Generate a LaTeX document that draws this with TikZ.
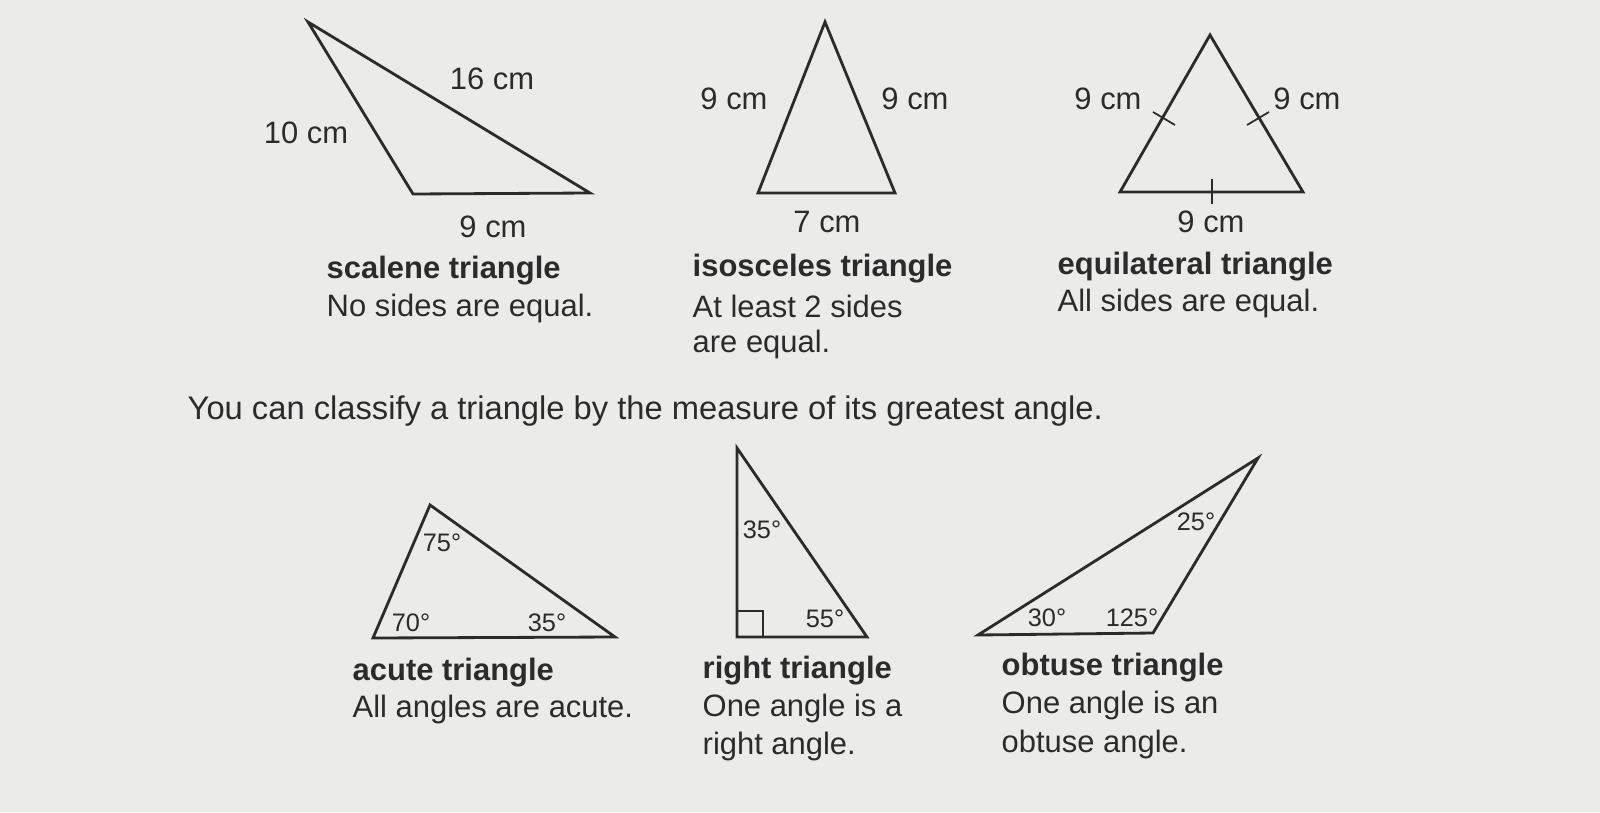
\documentclass[tikz,border=0pt]{standalone}
\usepackage{fontspec}
\setmainfont{Liberation Sans}
\definecolor{paper}{HTML}{EBEBEA}
\definecolor{ink}{HTML}{2B2B2B}
\tikzset{
  tri/.style={draw=ink, line width=0.8pt, line join=miter},
  tick/.style={draw=ink, line width=0.5pt},
  len/.style={text=ink, inner sep=0pt, font=\fontsize{8.8}{10}\selectfont},
  ang/.style={text=ink, inner sep=0pt, font=\fontsize{7.2}{8}\selectfont},
  kind/.style={text=ink, inner sep=0pt, anchor=west, font=\fontsize{8.8}{10}\selectfont\bfseries},
  note/.style={text=ink, inner sep=0pt, anchor=west, font=\fontsize{8.8}{10}\selectfont}
}
\begin{document}
\begin{tikzpicture}[x=0.01cm, y=-0.01cm]
      \fill[paper] (0,0) rectangle (1600,812);
      \useasboundingbox (0,0) rectangle (1600,812);
      % scalene
      \coordinate (sA) at (308,22);
      \coordinate (sB) at (413,194);
      \coordinate (sC) at (590,193);
      \draw[tri] (sA) -- (sB) -- (sC) -- cycle;
      \node[len] (s16) at (492,79) {16 cm};
      \node[len] (s10) at (306,133) {10 cm};
      \node[len] (s9) at (493,227) {9 cm};
      \node[kind] (sname) at (326,271) {scalene triangle};
      \node[note] (snote) at (326,308) {No sides are equal.};
      % isosceles
      \coordinate (iA) at (825,22);
      \coordinate (iB) at (758,193);
      \coordinate (iC) at (895,193);
      \draw[tri] (iA) -- (iB) -- (iC) -- cycle;
      \node[len] (i9l) at (734,99) {9 cm};
      \node[len] (i9r) at (915,99) {9 cm};
      \node[len] (i7) at (827,222) {7 cm};
      \node[kind] (iname) at (692,269) {isosceles triangle};
      \node[note] (inote) at (692,306) {At least 2 sides};
      \node[note] (inote2) at (692,344) {are equal.};
      % equilateral
      \coordinate (eA) at (1210,35);
      \coordinate (eB) at (1120,192);
      \coordinate (eC) at (1303,192);
      \draw[tri] (eA) -- (eB) -- (eC) -- cycle;
      \draw[tick] (1153,112) -- (1175,125);
      \draw[tick] (1247,125) -- (1269,112);
      \draw[tick] (1212,179) -- (1212,204);
      \node[len] (e9l) at (1108,99) {9 cm};
      \node[len] (e9r) at (1307,99) {9 cm};
      \node[len] (e9b) at (1211,222) {9 cm};
      \node[kind] (ename) at (1057,267) {equilateral triangle};
      \node[note] (enote) at (1057,303) {All sides are equal.};
      % sentence
      \node[note, font=\fontsize{9.3}{11}\selectfont] (line) at (187,411) {You can classify a triangle by the measure of its greatest angle.};
      % acute
      \coordinate (aA) at (430,505);
      \coordinate (aB) at (373,638);
      \coordinate (aC) at (615,637);
      \draw[tri] (aA) -- (aB) -- (aC) -- cycle;
      \node[ang] (a75) at (442,543) {75°};
      \node[ang] (a70) at (411,623) {70°};
      \node[ang] (a35) at (547,623) {35°};
      \node[kind] (aname) at (352,673) {acute triangle};
      \node[note] (anote) at (352,709) {All angles are acute.};
      % right
      \coordinate (rA) at (737,448);
      \coordinate (rB) at (737,637);
      \coordinate (rC) at (867,637);
      \draw[tri] (rA) -- (rB) -- (rC) -- cycle;
      \draw[tick] (737,611) -- (763,611) -- (763,637);
      \node[ang] (r35) at (762,530) {35°};
      \node[ang] (r55) at (825,619) {55°};
      \node[kind] (rname) at (702,671) {right triangle};
      \node[note] (rnote) at (702,708) {One angle is a};
      \node[note] (rnote2) at (702,746) {right angle.};
      % obtuse
      \coordinate (oA) at (978,635);
      \coordinate (oB) at (1153,633);
      \coordinate (oC) at (1258,458);
      \draw[tri] (oA) -- (oB) -- (oC) -- cycle;
      \node[ang] (o25) at (1196,522) {25°};
      \node[ang] (o30) at (1047,618) {30°};
      \node[ang] (o125) at (1132,618) {125°};
      \node[kind] (oname) at (1001,668) {obtuse triangle};
      \node[note] (onote) at (1001,705) {One angle is an};
      \node[note] (onote2) at (1001,744) {obtuse angle.};
\end{tikzpicture}
\end{document}
